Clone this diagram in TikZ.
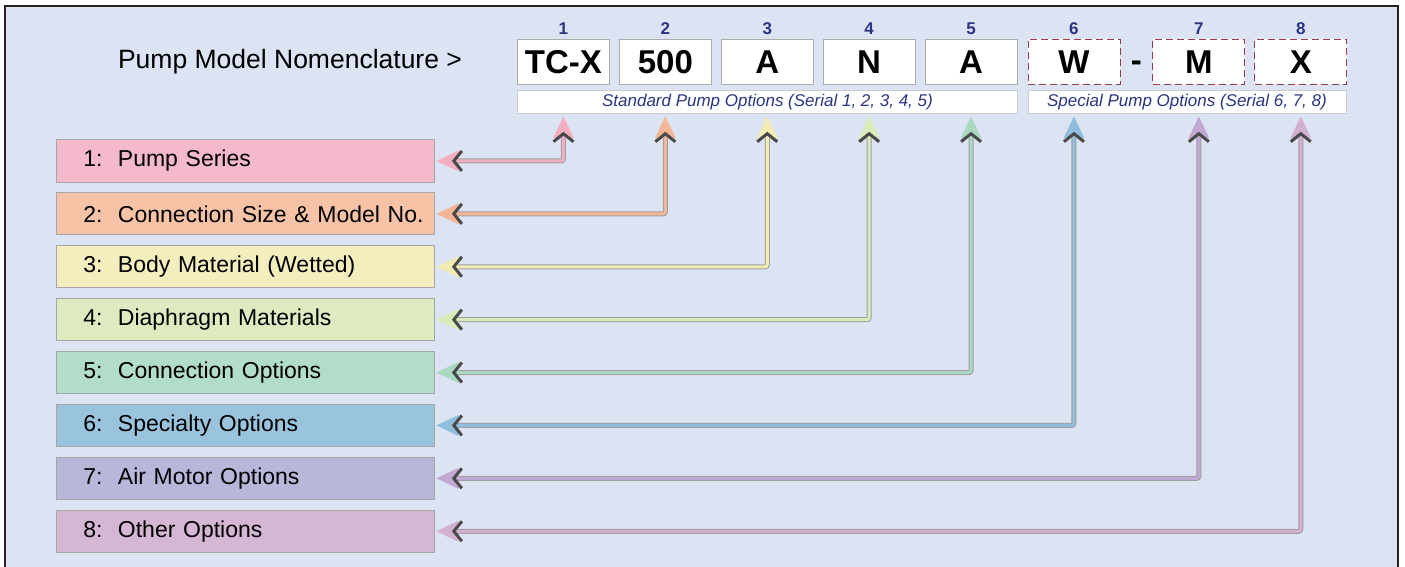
\documentclass[tikz,border=0pt]{standalone}
\usepackage{fontspec}
\setmainfont{Liberation Sans}
\usepackage{tikz}
\usetikzlibrary{arrows.meta,positioning,calc}
\definecolor{fondC}{HTML}{DCE3F2}
\definecolor{cadreC}{HTML}{2A2020}
\definecolor{numC}{HTML}{2B3585}
\definecolor{rougeC}{HTML}{9E3A4A}
\definecolor{barbC}{HTML}{4A4A4A}
\definecolor{serA}{HTML}{F4B9CA}
\definecolor{serB}{HTML}{F7C3A6}
\definecolor{serC}{HTML}{F4EDBD}
\definecolor{serD}{HTML}{DEEBC1}
\definecolor{serE}{HTML}{B2DDC8}
\definecolor{serF}{HTML}{9AC3DD}
\definecolor{serG}{HTML}{B8B6D9}
\definecolor{serH}{HTML}{D5B6D3}
\definecolor{flA}{HTML}{F2AFC2}
\definecolor{flB}{HTML}{F4B696}
\definecolor{flC}{HTML}{F1ECB2}
\definecolor{flD}{HTML}{D9EBB9}
\definecolor{flE}{HTML}{AAD9C2}
\definecolor{flF}{HTML}{90BEDD}
\definecolor{flG}{HTML}{C2A9D4}
\definecolor{flH}{HTML}{D4B0D0}
\tikzset{
  pointe/.tip={Triangle[length=22pt,width=20pt,sep=-27pt]
               Straight Barb[length=8pt,width=20pt,line width=3pt,color=barbC]},
  codebox/.style={rectangle, draw=gray!65, line width=0.9pt, fill=white, minimum width=92pt,
                  minimum height=45pt, inner sep=0pt, font=\fontsize{33pt}{36pt}\selectfont\bfseries},
  codespec/.style={codebox, draw=rougeC, dash pattern=on 7pt off 4pt},
  numlab/.style={inner sep=0pt, text=numC, font=\fontsize{17pt}{19pt}\selectfont\bfseries},
  optbar/.style={rectangle, draw=gray!40, line width=0.9pt, fill=white, minimum height=23pt,
                 inner sep=0pt, text=numC, font=\fontsize{17pt}{19pt}\selectfont\itshape},
  serie/.style={rectangle, draw=gray!70, line width=0.9pt, fill=#1, minimum height=42pt,
                text width=364pt, inner xsep=7pt, inner ysep=0pt, align=left,
                execute at begin node=\hspace*{20pt}, font=\fontsize{23pt}{26pt}\selectfont},
  conn/.style={pointe-pointe, draw=#1, line width=3pt, rounded corners=2pt,
               shorten <=17pt, shorten >=18pt,
               preaction={draw=gray!75, line width=5pt, -, shorten <=20pt, shorten >=21pt}},
}
\begin{document}
\begin{tikzpicture}[x=1pt, y=-1pt, node distance=9pt]
    \useasboundingbox (0,0) rectangle (1405,567);
    \draw[cadreC, line width=2pt, fill=fondC] (5,6) rectangle (1398,620);
    \node[font=\fontsize{26.5pt}{30pt}\selectfont] (titre) at (290,62) {Pump Model Nomenclature >};
    % code letters
    \node[codebox, anchor=north west] (code1) at (517,39) {TC-X};
    \node[codebox, right=of code1] (code2) {500};
    \node[codebox, right=of code2] (code3) {A};
    \node[codebox, right=of code3] (code4) {N};
    \node[codebox, right=of code4] (code5) {A};
    \node[codespec, right=10pt of code5] (code6) {W};
    \node[codespec, right=32pt of code6] (code7) {M};
    \node[codespec, right=of code7] (code8) {X};
    \node[font=\fontsize{33pt}{36pt}\selectfont\bfseries, inner sep=0pt, yshift=-4pt] (tiret)
      at ($(code6.east)!0.5!(code7.west)$) {-};
    \node[numlab, above=4pt of code1] (num1) {1};
    \node[numlab, above=4pt of code2] (num2) {2};
    \node[numlab, above=4pt of code3] (num3) {3};
    \node[numlab, above=4pt of code4] (num4) {4};
    \node[numlab, above=4pt of code5] (num5) {5};
    \node[numlab, above=4pt of code6] (num6) {6};
    \node[numlab, above=4pt of code7] (num7) {7};
    \node[numlab, above=4pt of code8] (num8) {8};
    \node[optbar, minimum width=500pt, anchor=north west] (stdbar) at ([yshift=-5pt]code1.south west)
      {Standard Pump Options (Serial 1, 2, 3, 4, 5)};
    \node[optbar, minimum width=318pt, anchor=north west] (spcbar) at ([yshift=-5pt]code6.south west)
      {Special Pump Options (Serial 6, 7, 8)};
    % series boxes
    \node[serie=serA, anchor=north west] (ser1) at (56,139.5) {1:\ \ Pump Series};
    \node[serie=serB, below=10pt of ser1] (ser2) {2:\ \ Connection Size \& Model No.};
    \node[serie=serC, below=10pt of ser2] (ser3) {3:\ \ Body Material (Wetted)};
    \node[serie=serD, below=10pt of ser3] (ser4) {4:\ \ Diaphragm Materials};
    \node[serie=serE, below=10pt of ser4] (ser5) {5:\ \ Connection Options};
    \node[serie=serF, below=10pt of ser5] (ser6) {6:\ \ Specialty Options};
    \node[serie=serG, below=10pt of ser6] (ser7) {7:\ \ Air Motor Options};
    \node[serie=serH, below=10pt of ser7] (ser8) {8:\ \ Other Options};
    % connectors
    \draw[conn=flA] (ser1.east) -| (code1 |- stdbar.south);
    \draw[conn=flB] (ser2.east) -| (code2 |- stdbar.south);
    \draw[conn=flC] (ser3.east) -| (code3 |- stdbar.south);
    \draw[conn=flD] (ser4.east) -| (code4 |- stdbar.south);
    \draw[conn=flE] (ser5.east) -| (code5 |- stdbar.south);
    \draw[conn=flF] (ser6.east) -| (code6 |- spcbar.south);
    \draw[conn=flG] (ser7.east) -| (code7 |- spcbar.south);
    \draw[conn=flH] (ser8.east) -| (code8 |- spcbar.south);
  \end{tikzpicture}
\end{document}
